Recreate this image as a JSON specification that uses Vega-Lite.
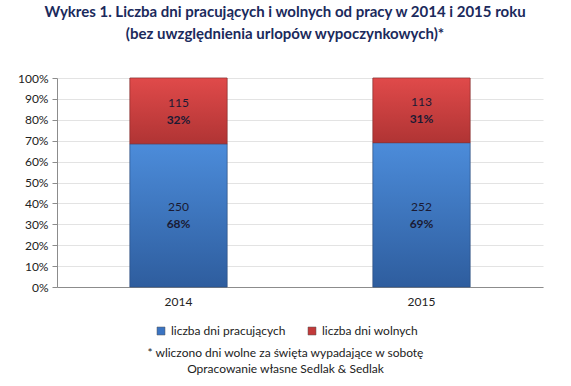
{
  "$schema": "https://vega.github.io/schema/vega-lite/v6.json",
  "autosize": {"type": "none"},
  "padding": {"left": 57, "top": 78, "right": 28, "bottom": 99},
  "width": 486,
  "height": 209,
  "background": "white",
  "config": {"view": {"stroke": null}, "font": "Lato"},
  "title": {
    "text": ["Wykres 1. Liczba dni pracujących i wolnych od pracy w 2014 i 2015 roku", "(bez uwzględnienia urlopów wypoczynkowych)*"],
    "fontSize": 15,
    "fontWeight": "bold",
    "color": "#1B2A5C",
    "lineHeight": 22,
    "anchor": "middle",
    "dx": -15,
    "offset": 30
  },
  "data": {
    "values": [
      {"year": "2014", "series": "liczba dni pracujących", "order": 1, "value": 250, "pct": "68%"},
      {"year": "2014", "series": "liczba dni wolnych", "order": 2, "value": 115, "pct": "32%"},
      {"year": "2015", "series": "liczba dni pracujących", "order": 1, "value": 252, "pct": "69%"},
      {"year": "2015", "series": "liczba dni wolnych", "order": 2, "value": 113, "pct": "31%"}
    ]
  },
  "transform": [
    {"stack": "value", "groupby": ["year"], "offset": "normalize", "sort": [{"field": "order"}], "as": ["y0", "y1"]},
    {"calculate": "(datum.y0 + datum.y1) / 2", "as": "ymid"}
  ],
  "encoding": {
    "x": {
      "field": "year", "type": "nominal",
      "scale": {"paddingInner": 0.6, "paddingOuter": 0.3},
      "axis": {
        "labelAngle": 0, "ticks": false, "domainColor": "#8c8c8c", "labelFontSize": 12, "labelColor": "#222",
        "labelPadding": 9, "grid": false,
        "title": ["* wliczono dni wolne za święta wypadające w sobotę", "Opracowanie własne Sedlak & Sedlak"],
        "titleFontSize": 12, "titleFontWeight": "normal", "titleColor": "#222", "titleLineHeight": 16,
        "titleX": 228, "titleY": 65, "titleAnchor": "middle", "titleBaseline": "middle"
      }
    },
    "y": {"field": "y0", "type": "quantitative", "scale": {"domain": [0, 1]},
      "axis": {"format": ".0%", "values": [0,0.1,0.2,0.3,0.4,0.5,0.6,0.7,0.8,0.9,1], "title": null,
        "labelOverlap": false,
        "domainColor": "#8c8c8c", "tickColor": "#8c8c8c", "tickSize": 5, "gridColor": "#e3e3e3",
        "labelFontSize": 12, "labelColor": "#222", "labelPadding": 4}},
    "y2": {"field": "y1"}
  },
  "layer": [
    {
      "mark": {"type": "bar", "stroke": "#555", "strokeWidth": 0.3},
      "encoding": {
        "color": {
          "field": "series", "type": "nominal",
          "scale": {"domain": ["liczba dni pracujących", "liczba dni wolnych"], "range": ["#3B74C2", "#C23A3A"]},
          "legend": {
            "orient": "none", "direction": "horizontal", "legendX": 98, "legendY": 247, "title": null,
            "symbolType": "square", "symbolSize": 64, "symbolStrokeWidth": 0.5, "symbolStrokeColor": "#555",
            "labelFontSize": 12, "labelColor": "#222", "columnPadding": 20, "labelOffset": 4
          }
        }
      }
    },
    {
      "transform": [{"filter": "datum.order == 1"}],
      "mark": {"type": "bar", "stroke": "#2a4f85", "strokeWidth": 0.6,
        "fill": {"gradient": "linear", "x1": 0, "y1": 0, "x2": 0, "y2": 1,
          "stops": [{"offset": 0, "color": "#4C8CDA"}, {"offset": 1, "color": "#2E5D9E"}]}}
    },
    {
      "transform": [{"filter": "datum.order == 2"}],
      "mark": {"type": "bar", "stroke": "#8f2a2a", "strokeWidth": 0.6,
        "fill": {"gradient": "linear", "x1": 0, "y1": 0, "x2": 0, "y2": 1,
          "stops": [{"offset": 0, "color": "#E04A4A"}, {"offset": 1, "color": "#B03434"}]}}
    },
    {
      "mark": {"type": "text", "fontSize": 12, "color": "#1a1a33", "dy": -8},
      "encoding": {
        "y": {"field": "ymid", "type": "quantitative"},
        "y2": null,
        "text": {"field": "value"}
      }
    },
    {
      "mark": {"type": "text", "fontSize": 12, "fontWeight": "bold", "color": "#1a1a33", "dy": 9},
      "encoding": {
        "y": {"field": "ymid", "type": "quantitative"},
        "y2": null,
        "text": {"field": "pct"}
      }
    }
  ]
}
